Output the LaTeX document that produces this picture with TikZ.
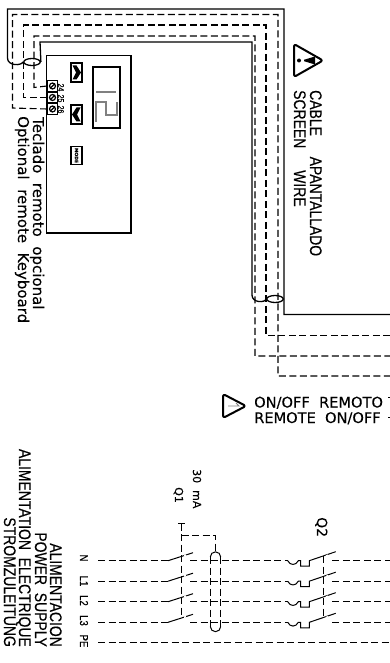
\documentclass[tikz,border=0pt]{standalone}
\usepackage{fontspec}
\usepackage{tikz}
\usetikzlibrary{matrix, shapes.geometric}
\newfontfamily\cadfont[FakeBold=0.2]{DejaVu Sans}
\newfontfamily\capfont[FakeStretch=0.83, FakeBold=0.25]{Liberation Sans}

\begin{document}
\begin{tikzpicture}[x=1pt, y=-1pt,
  wire/.style={line width=1.1pt, dash pattern=on 7pt off 3.5pt},
  sheath/.style={line width=1.3pt},
  cable/.style={draw, ellipse, line width=1.3pt, inner sep=0pt, minimum width=16.5pt, minimum height=7pt},
  downtext/.style={rotate=-90, anchor=base west, inner sep=0pt, font=\capfont\fontsize{16.8}{17}\selectfont},
  uptext/.style={rotate=-90, anchor=base east, inner sep=0pt, font=\capfont\fontsize{16.8}{17}\selectfont},
  cadtext/.style={rotate=-90, anchor=base west, inner sep=0pt, font=\cadfont\fontsize{15}{15}\selectfont},
  phase/.style={rotate=-90, anchor=base, inner sep=0pt, font=\capfont\fontsize{11.5}{12}\selectfont},
  number/.style={rotate=-90, anchor=base, inner sep=0pt, font=\capfont\fontsize{8.5}{9}\selectfont},
  button/.style={draw, line width=1.5pt, minimum width=11pt, minimum height=19pt, inner sep=0pt},
  warnsign/.style={line width=2pt, line join=round, rounded corners=2.5pt}]
\useasboundingbox (0,0) rectangle (390,663);

\node[draw, line width=1.9pt, inner sep=0pt, minimum width=84.5pt, minimum height=177.5pt] (K) at (88.75,144.25) {};
\node[draw, line width=1.3pt, inner sep=0pt, minimum width=27pt, minimum height=61pt] (D) at (106.5,97.5) {};
\draw[gray, line width=1.2pt] (96,92) -- (116,92);
\draw[gray, line width=1.2pt] (96,122) -- (96,102) -- (106,102) -- (106,115) -- (117,115) -- (117,102);
\node[button] (B1) at (76.5,72.5) {};
\node[button] (B2) at (76.5,114.5) {};
\node[button, minimum height=18pt] (B3) at (76.5,155.5) {};
\fill (72.5,65.5) -- (76.5,65.5) -- (81,72.5) -- (76.5,79.5) -- (72.5,79.5) -- (76,72.5) -- cycle;
\fill (80.5,107.5) -- (76.5,107.5) -- (72,114.5) -- (76.5,121.5) -- (80.5,121.5) -- (77,114.5) -- cycle;
\node[rotate=-90, inner sep=0pt, font=\cadfont\bfseries\fontsize{4.5}{5}\selectfont] (M) at (B3) {MODE};

\matrix (T) at (52.5,97.5) [matrix of nodes, nodes in empty cells, row sep=-\pgflinewidth, nodes={draw, line width=1.4pt, inner sep=0pt, minimum width=9.5pt, minimum height=10.5pt}] {
\\
\\
\\
};
\draw[line width=1.2pt] (T-1-1.center) circle (3pt) +(-2.5,2.5) -- +(2.5,-2.5);
\draw[line width=1.2pt] (T-2-1.center) circle (3pt) +(-2.5,2.5) -- +(2.5,-2.5);
\draw[line width=1.2pt] (T-3-1.center) circle (3pt) +(-2.5,2.5) -- +(2.5,-2.5);
\node[number] (n24) at (58,87.5) {24};
\node[number] (n25) at (58,98.5) {25};
\node[number] (n26) at (58,109.5) {26};

\node[cable] (C1) at (32,62) {};
\node[cable] (C2) at (275,299) {};
\draw[sheath] (C1.east) -- (40,42) -- (252,42) -- (252,295) .. controls (252,303) and (265,303) .. (C2.west);
\draw[sheath] (C2.east) -- (284,9) -- (7.5,9) -- (7.5,58) .. controls (7.5,66) and (21,66) .. (C1.west);

\coordinate (W0) at (390,314.5);
\coordinate (W1) at (390,335.5);
\coordinate (W2) at (390,356);
\coordinate (W3) at (390,376);
\draw[line width=1.3pt] (C2.east) -- (284,314.5) -- (W0);
\draw[wire] (T-1-1.west) -- (34,87.5) -- (34,36) -- (255,36) -- (255,356) -- (W2);
\draw[wire] (T-2-1.west) -- (23.5,97.5) -- (23.5,25) -- (266,25) -- (266,335.5) -- (W1);
\draw[wire] (T-3-1.west) -- (12.5,108) -- (12.5,14.5) -- (278,14.5) -- (278,376) -- (W3);

\node[cadtext] (Tk) at (33,117) {Teclado\ \ remoto\ \ opcional};
\node[cadtext] (Ok) at (18,116) {Optional\ \ remote\ \ Keyboard};

\draw[warnsign] (294,44) -- (323,60.5) -- (294,77) -- cycle;
\fill (299,60.5) circle (2pt);
\fill (304,59.8) -- (315,56.5) -- (315,64.5) -- (304,61.2) -- cycle;
\node[downtext] (Ca) at (310,90) {CABLE};
\node[downtext] (Ap) at (310,156.5) {APANTALLADO};
\node[downtext] (Sc) at (294,90) {SCREEN};
\node[downtext] (Wi) at (294,170) {WIRE};

\draw[warnsign] (223,394) -- (246,406) -- (223,418) -- cycle;
\draw[gray, line width=0.8pt] (228,406) -- (239,406) -- (236,403);
\node[anchor=base west, inner sep=0pt, font=\cadfont\fontsize{14.6}{15}\selectfont] (On) at (254,407.5) {ON/OFF\ \ REMOTO};
\node[anchor=base west, inner sep=0pt, font=\cadfont\fontsize{14.6}{15}\selectfont] (Re) at (254,423) {REMOTE\ \ ON/OFF};
\draw[line width=1pt] (388,397) -- (390,397);
\draw[line width=1pt] (388,417) -- (390,417);

\node[uptext] (A1) at (50,647) {ALIMENTACION};
\node[uptext] (A2) at (35,647) {POWER\ \ SUPPLY};
\node[uptext] (A3) at (19,647) {ALIMENTATION\ \ ELECTRIQUE};
\node[uptext] (A4) at (4,647) {STROMZULEITUNG};

\node[phase] (N) at (80,558) {N};
\node[phase] (L1) at (80,581) {L1};
\node[phase] (L2) at (80,600.5) {L2};
\node[phase] (L3) at (80,620.5) {L3};
\node[phase] (PE) at (80,641) {PE};

\node[rotate=-90, anchor=base west, inner sep=0pt, font=\cadfont\fontsize{11}{11}\selectfont] (mA) at (193,469) {30\ \ mA};
\node[rotate=-90, anchor=base west, inner sep=0pt, font=\cadfont\fontsize{11}{11}\selectfont] (Q1) at (175,487) {Q1};
\node[rotate=-90, anchor=base west, inner sep=0pt, font=\cadfont\fontsize{14}{15}\selectfont] (Q2) at (317,517) {Q2};

\coordinate (a1) at (98,560.7);
\coordinate (a2) at (98,581.2);
\coordinate (a3) at (98,601.7);
\coordinate (a4) at (98,622.3);
\coordinate (a5) at (98,642.7);
\coordinate (e1) at (390,560.7);
\coordinate (e2) at (390,581.2);
\coordinate (e3) at (390,601.7);
\coordinate (e4) at (390,622.3);
\coordinate (e5) at (390,642.7);
\draw[wire] (a5) -- (e5);

\draw[wire] (a1) -- (168,560.7);
\draw[wire] (a2) -- (168,581.2);
\draw[wire] (a3) -- (168,601.7);
\draw[wire] (a4) -- (168,622.3);
\draw[line width=1pt] (168,560.7) -- (193,552.7) (168,581.2) -- (193,573.2) (168,601.7) -- (193,593.7) (168,622.3) -- (193,614.3);
\draw[white, line width=1.5pt] (184,555.6) -- (186,555) (184,576.1) -- (186,575.5) (184,596.6) -- (186,596) (184,617.2) -- (186,616.6);
\draw[wire] (190,560.7) -- (287.7,560.7);
\draw[wire] (190,581.2) -- (287.7,581.2);
\draw[wire] (190,601.7) -- (287.7,601.7);
\draw[wire] (190,622.3) -- (287.7,622.3);
\draw[line width=1pt] (178,523.5) -- (185,523.5);
\draw[wire] (181.7,523.5) -- (181.7,617);
\draw[wire] (181.7,535.7) -- (215.7,535.7) -- (215.7,552);

\draw[line width=1pt] (210.3,557) arc[start angle=180, end angle=360, x radius=5.2pt, y radius=-5.2pt];
\draw[line width=1pt] (210.3,626.5) arc[start angle=180, end angle=360, x radius=5.2pt, y radius=5.2pt];
\draw[wire] (210.3,557) -- (210.3,626.5);
\draw[wire] (220.7,557) -- (220.7,626.5);

\draw[line width=1pt] (287.7,560.7) .. controls (290,565.7) and (296,565.7) .. (298.3,560.7) -- (300.7,560.7) -- (300.7,566.2) -- (309.3,566.2) -- (309.3,560.7) -- (335.7,551.7);
\draw[line width=1pt] (287.7,581.2) .. controls (290,586.2) and (296,586.2) .. (298.3,581.2) -- (300.7,581.2) -- (300.7,586.7) -- (309.3,586.7) -- (309.3,581.2) -- (335.7,572.2);
\draw[line width=1pt] (287.7,601.7) .. controls (290,606.7) and (296,606.7) .. (298.3,601.7) -- (300.7,601.7) -- (300.7,607.2) -- (309.3,607.2) -- (309.3,601.7) -- (335.7,592.7);
\draw[line width=1pt] (287.7,622.3) .. controls (290,627.3) and (296,627.3) .. (298.3,622.3) -- (300.7,622.3) -- (300.7,627.8) -- (309.3,627.8) -- (309.3,622.3) -- (335.7,613.3);
\draw[white, line width=1.5pt] (326,555.9) -- (328,555.2) (326,576.4) -- (328,575.7) (326,596.9) -- (328,596.2) (326,617.5) -- (328,616.8);
\draw[wire] (332.3,560.7) -- (e1);
\draw[wire] (332.3,581.2) -- (e2);
\draw[wire] (332.3,601.7) -- (e3);
\draw[wire] (332.3,622.3) -- (e4);
\draw[wire] (323.3,556) -- (323.3,618.3);
\end{tikzpicture}
\end{document}
